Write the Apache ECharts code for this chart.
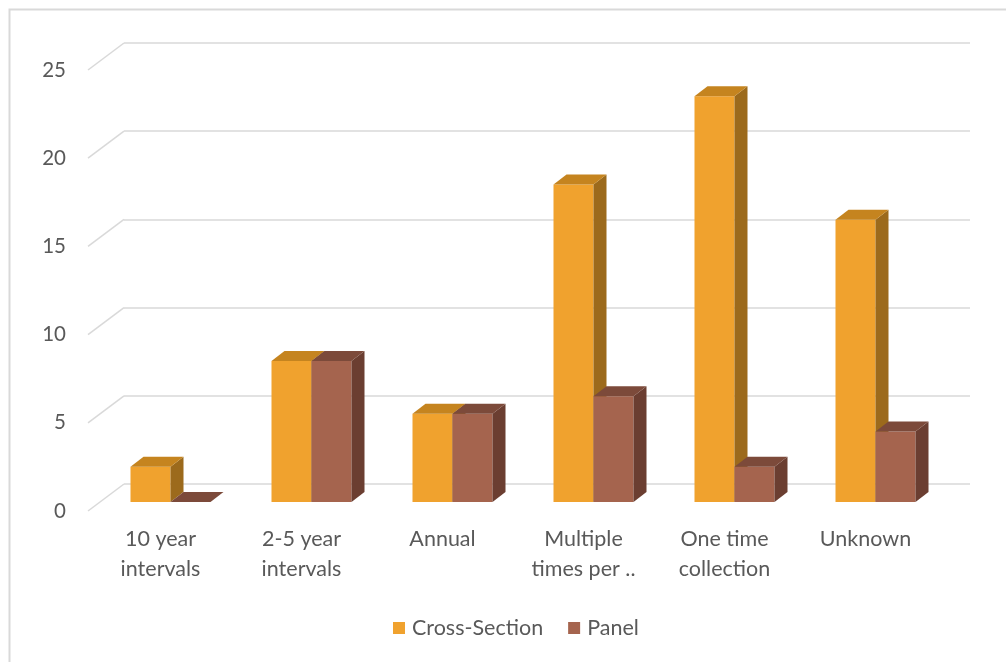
<!DOCTYPE html>
<html>
<head>
<meta charset="utf-8">
<script src="https://cdn.jsdelivr.net/npm/echarts@6/dist/echarts.min.js"></script>
<style>html,body{margin:0;padding:0;background:#fff;}#c{width:1006px;height:662px;}</style>
</head>
<body>
<div id="c"></div>
<script>
const categories = ['10 year\nintervals', '2-5 year\nintervals', 'Annual', 'Multiple\ntimes per ..', 'One time\ncollection', 'Unknown'];
const crossSection = [2, 8, 5, 18, 23, 16];
const panel = [0, 8, 5, 6, 2, 4];
const yTicks = [0, 5, 10, 15, 20, 25];
const seriesNames = ['Cross-Section', 'Panel'];

const FONT = 'Lato, "Open Sans", sans-serif';
const TXT = '#595959';
const GRID = '#d9d9d9';
const DEPTH_X = 36, DEPTH_Y = 27, FRONT = 2 / 3, BAR_DX = 13, BAR_DY = 10;

const palettes = [
  { front: '#F0A22E', top: '#C5841F', side: '#9C6A1C' },
  { front: '#A5644E', top: '#7C4A3A', side: '#6B3E31' }
];

function barRenderer(sIdx) {
  const pal = palettes[sIdx];
  return function (params, api) {
    const i = api.value(0), v = api.value(1);
    const top = api.coord([i, v]);
    const base = api.coord([i, 0]);
    const band = api.size([1, 0])[0];
    const w = band * 40 / 141;
    const cx = top[0] - DEPTH_X * FRONT;
    const x0 = sIdx === 0 ? cx - w : cx;
    const x1 = x0 + w;
    const yT = top[1] + DEPTH_Y * FRONT;
    const yB = base[1] + DEPTH_Y * FRONT;
    const children = [];
    if (yB - yT > 0.5) {
      children.push({ type: 'rect', shape: { x: x0, y: yT, width: w, height: yB - yT }, style: { fill: pal.front } });
      children.push({ type: 'polygon', shape: { points: [[x1, yT], [x1 + BAR_DX, yT - BAR_DY], [x1 + BAR_DX, yB - BAR_DY], [x1, yB]] }, style: { fill: pal.side } });
    }
    children.push({ type: 'polygon', shape: { points: [[x0, yT], [x1, yT], [x1 + BAR_DX, yT - BAR_DY], [x0 + BAR_DX, yT - BAR_DY]] }, style: { fill: pal.top } });
    return { type: 'group', children: children };
  };
}

function diagRenderer(params, api) {
  const v = api.value(0);
  const p = api.coord([0, v]);
  const x = params.coordSys.x;
  return { type: 'line', shape: { x1: x, y1: p[1], x2: x - DEPTH_X, y2: p[1] + DEPTH_Y }, style: { stroke: GRID, lineWidth: 1.5 } };
}

const chart = echarts.init(document.getElementById('c'), null, { renderer: 'canvas' });
chart.setOption({
  animation: false,
  backgroundColor: '#fff',
  textStyle: { fontFamily: FONT },
  graphic: [{ type: 'rect', left: 7, top: 7, shape: { x: 0, y: 0, width: 1100, height: 700 }, style: { fill: 'none', stroke: GRID, lineWidth: 2 }, silent: true }],
  legend: {
    data: seriesNames, left: 393, top: 617, padding: 0, icon: 'rect', itemWidth: 12, itemHeight: 12, itemGap: 25,
    textStyle: { fontFamily: FONT, fontSize: 21.5, color: TXT, padding: [0, 0, 0, 2] }
  },
  grid: [
    { left: 124, top: 43, width: 846, height: 441 },
    { left: 90, top: 70, width: 846, height: 441 }
  ],
  xAxis: [
    { type: 'category', gridIndex: 0, data: categories, show: false },
    { type: 'category', gridIndex: 1, data: categories, axisLine: { show: false }, axisTick: { show: false },
      axisLabel: { interval: 0, margin: 13, fontSize: 21.5, lineHeight: 30, color: TXT, fontFamily: FONT } }
  ],
  yAxis: [
    { type: 'value', gridIndex: 0, min: 0, max: 25, interval: 5, axisLabel: { show: false }, axisLine: { show: false }, axisTick: { show: false },
      splitLine: { show: true, lineStyle: { color: GRID, width: 1.5 } } },
    { type: 'value', gridIndex: 1, min: 0, max: 25, interval: 5, axisLine: { show: false }, axisTick: { show: false }, splitLine: { show: false },
      axisLabel: { margin: 24, fontSize: 20.5, color: TXT, fontFamily: FONT } }
  ],
  series: [
    { type: 'custom', xAxisIndex: 0, yAxisIndex: 0, renderItem: diagRenderer, data: yTicks.map(t => [t]), encode: { y: 0 }, silent: true, z: 1 },
    { type: 'custom', name: seriesNames[0], xAxisIndex: 0, yAxisIndex: 0, renderItem: barRenderer(0), itemStyle: { color: palettes[0].front },
      data: crossSection.map((v, i) => [i, v]), encode: { x: 0, y: 1 }, z: 2 },
    { type: 'custom', name: seriesNames[1], xAxisIndex: 0, yAxisIndex: 0, renderItem: barRenderer(1), itemStyle: { color: palettes[1].front },
      data: panel.map((v, i) => [i, v]), encode: { x: 0, y: 1 }, z: 3 }
  ]
});
</script>
</body>
</html>
